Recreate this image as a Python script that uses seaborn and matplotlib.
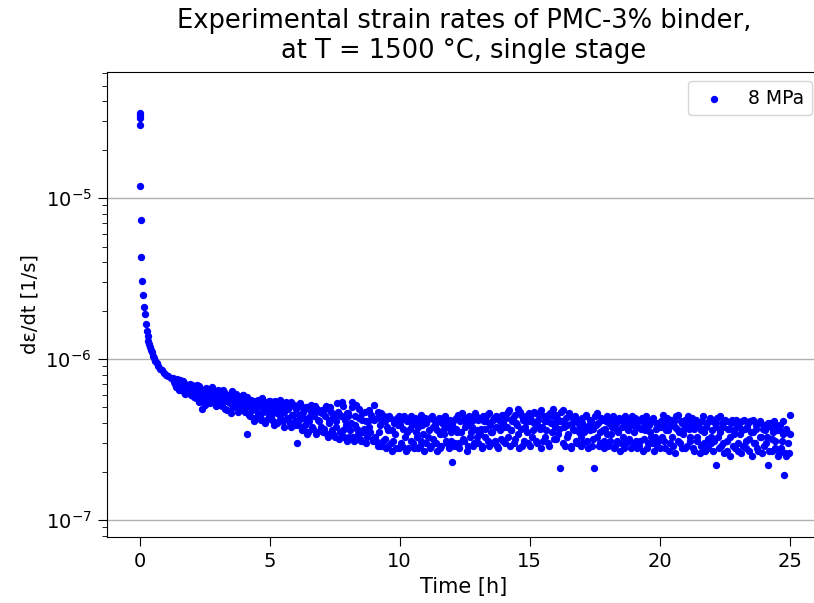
import pandas as pd
import matplotlib.pyplot as plt
import seaborn as sns

# early transient (first ~1.3 h)
hours_start = [0.0, 0.0, 0.0, 0.0, 0.03, 0.05, 0.07, 0.10, 0.13, 0.17, 0.20, 0.24, 0.27, 0.31, 0.34,
               0.37, 0.42, 0.45, 0.48, 0.52, 0.56, 0.61, 0.67, 0.72, 0.78, 0.86, 0.93, 1.00, 1.10, 1.20]
rate_start_e7 = [339, 328, 313, 285, 118, 72.7, 43, 30.5, 25, 21, 19, 16.5, 15, 13.9, 13.0,
                 12.4, 11.8, 11.3, 11.0, 10.5, 10.1, 9.7, 9.4, 9.0, 8.7, 8.5, 8.2, 8.0, 7.9, 7.6]

# steady part, strain rate in 1e-8 1/s (first pass of readings)
hours_a = [
    1.30, 1.36, 1.42, 1.48, 1.54, 1.60, 1.66, 1.72, 1.78, 1.84, 1.90, 1.96,
    2.00, 2.06, 2.12, 2.18, 2.24, 2.30, 2.36, 2.42, 2.48, 2.54, 2.60, 2.66, 2.72, 2.78, 2.84, 2.90, 2.96,
    3.00, 3.06, 3.12, 3.18, 3.24, 3.30, 3.36, 3.42, 3.48, 3.54, 3.60, 3.66, 3.72, 3.78, 3.84, 3.90, 3.96,
    4.00, 4.06, 4.12, 4.18, 4.24, 4.30, 4.36, 4.42, 4.48, 4.54, 4.60, 4.66, 4.72, 4.78, 4.84, 4.90, 4.96,
    5.00, 5.06, 5.12, 5.18, 5.24, 5.30, 5.36, 5.42, 5.48, 5.54, 5.60, 5.66, 5.72, 5.78, 5.84, 5.90, 5.96,
    6.00, 6.06, 6.12, 6.18, 6.24, 6.30, 6.36, 6.42, 6.48, 6.54, 6.60, 6.66, 6.72, 6.78, 6.84, 6.90, 6.96,
    7.00, 7.06, 7.12, 7.18, 7.24, 7.30, 7.36, 7.42, 7.48, 7.54, 7.60, 7.66, 7.72, 7.78, 7.84, 7.90, 7.96,
    8.00, 8.06, 8.12, 8.18, 8.24, 8.30, 8.36, 8.42, 8.48, 8.54, 8.60, 8.66, 8.72, 8.78, 8.84, 8.90, 8.96,
    9.00, 9.06, 9.12, 9.18, 9.24, 9.30, 9.36, 9.42, 9.48, 9.54, 9.60, 9.66, 9.72, 9.78, 9.84, 9.90, 9.96,
    10.00, 10.06, 10.12, 10.18, 10.24, 10.30, 10.36, 10.42, 10.48, 10.54, 10.60, 10.66, 10.72, 10.78, 10.84, 10.90, 10.96,
    11.00, 11.06, 11.12, 11.18, 11.24, 11.30, 11.36, 11.42, 11.48, 11.54, 11.60, 11.66, 11.72, 11.78, 11.84, 11.90, 11.96,
    12.00, 12.06, 12.12, 12.18, 12.24, 12.30, 12.36, 12.42, 12.48, 12.54, 12.60, 12.66, 12.72, 12.78, 12.84, 12.90, 12.96,
    13.00, 13.06, 13.12, 13.18, 13.24, 13.30, 13.36, 13.42, 13.48, 13.54, 13.60, 13.66, 13.72, 13.78, 13.84, 13.90, 13.96,
    14.00, 14.06, 14.12, 14.18, 14.24, 14.30, 14.36, 14.42, 14.48, 14.54, 14.60, 14.66, 14.72, 14.78, 14.84, 14.90, 14.96,
    15.00, 15.06, 15.12, 15.18, 15.24, 15.30, 15.36, 15.42, 15.48, 15.54, 15.60, 15.66, 15.72, 15.78, 15.84, 15.90, 15.96,
    16.00, 16.06, 16.12, 16.18, 16.24, 16.30, 16.36, 16.42, 16.48, 16.54, 16.60, 16.66, 16.72, 16.78, 16.84, 16.90, 16.96,
    17.00, 17.06, 17.12, 17.18, 17.24, 17.30, 17.36, 17.42, 17.48, 17.54, 17.60, 17.66, 17.72, 17.78, 17.84, 17.90, 17.96,
    18.00, 18.06, 18.12, 18.18, 18.24, 18.30, 18.36, 18.42, 18.48, 18.54, 18.60, 18.66, 18.72, 18.78, 18.84, 18.90, 18.96,
    19.00, 19.06, 19.12, 19.18, 19.24, 19.30, 19.36, 19.42, 19.48, 19.54, 19.60, 19.66, 19.72, 19.78, 19.84, 19.90, 19.96,
    20.00, 20.06, 20.12, 20.18, 20.24, 20.30, 20.36, 20.42, 20.48, 20.54, 20.60, 20.66, 20.72, 20.78, 20.84, 20.90, 20.96,
    21.00, 21.06, 21.12, 21.18, 21.24, 21.30, 21.36, 21.42, 21.48, 21.54, 21.60, 21.66, 21.72, 21.78, 21.84, 21.90, 21.96,
    22.00, 22.06, 22.12, 22.18, 22.24, 22.30, 22.36, 22.42, 22.48, 22.54, 22.60, 22.66, 22.72, 22.78, 22.84, 22.90, 22.96,
    23.00, 23.06, 23.12, 23.18, 23.24, 23.30, 23.36, 23.42, 23.48, 23.54, 23.60, 23.66, 23.72, 23.78, 23.84, 23.90, 23.96,
    24.00, 24.06, 24.12, 24.18, 24.24, 24.30, 24.36, 24.42, 24.48, 24.54, 24.60, 24.66, 24.72, 24.78, 24.84, 24.90, 24.96, 25.00,
]
rate_a_e8 = [
    76, 70, 73, 66, 74, 68, 63, 71, 65, 69, 62, 67,
    69, 60, 66, 57, 63, 68, 55, 49, 61, 65, 56, 62, 53, 67, 58, 63, 54,
    64, 55, 60, 51, 62, 57, 48, 59, 53, 63, 50, 56, 61, 47, 58, 52, 60,
    57, 47, 34, 53, 44, 56, 49, 41, 54, 46, 51, 42, 57, 48, 40, 53, 45,
    55, 44, 50, 39, 53, 46, 41, 56, 48, 38, 52, 43, 49, 40, 54, 45, 39,
    51, 30, 42, 53, 36, 47, 39, 50, 35, 44, 52, 37, 46, 34, 49, 41, 36,
    48, 35, 44, 51, 33, 40, 47, 34, 43, 38, 53, 32, 45, 54, 36, 42, 31,
    46, 33, 40, 54, 31, 44, 37, 49, 32, 42, 35, 47, 30, 41, 38, 45, 31,
    52, 33, 43, 29, 39, 46, 31, 41, 28, 36, 44, 30, 27, 40, 34, 43, 28,
    41, 30, 37, 44, 27, 35, 42, 31, 39, 28, 43, 33, 38, 29, 45, 34, 40,
    30, 42, 36, 28, 44, 32, 39, 27, 41, 34, 29, 43, 37, 31, 40, 28, 35,
    23, 41, 30, 37, 45, 28, 35, 42, 31, 39, 27, 44, 33, 38, 29, 46, 36,
    30, 43, 37, 28, 41, 33, 45, 29, 39, 35, 42, 31, 44, 28, 38, 32, 40,
    45, 30, 38, 47, 29, 36, 43, 32, 40, 49, 28, 37, 44, 31, 41, 35, 46,
    29, 42, 36, 47, 31, 39, 45, 28, 38, 44, 33, 41, 30, 46, 35, 49, 40,
    32, 43, 37, 21, 41, 48, 29, 39, 34, 44, 28, 37, 42, 31, 40, 35, 29,
    43, 30, 38, 45, 28, 36, 41, 32, 21, 39, 46, 29, 35, 42, 31, 37, 44,
    29, 40, 34, 43, 28, 37, 31, 42, 27, 38, 33, 44, 30, 36, 41, 28, 39,
    35, 43, 28, 38, 31, 41, 27, 36, 44, 30, 39, 33, 42, 27, 37, 29, 40,
    28, 38, 45, 31, 36, 42, 27, 39, 33, 41, 26, 37, 45, 30, 40, 34, 28,
    42, 29, 37, 33, 43, 27, 39, 31, 40, 26, 36, 44, 30, 38, 28, 41, 33,
    36, 27, 40, 22, 33, 44, 29, 38, 26, 41, 31, 37, 25, 42, 34, 28, 39,
    30, 40, 26, 36, 42, 28, 38, 32, 41, 25, 35, 30, 39, 27, 41, 33, 37,
    29, 38, 33, 22, 40, 27, 35, 31, 39, 25, 36, 28, 34, 19, 25, 35, 26, 45,
]

# second pass of readings, in between the first ones
hours_b = [
    1.33, 1.39, 1.45, 1.51, 1.57, 1.63, 1.69, 1.75, 1.81, 1.87, 1.93, 1.99,
    2.03, 2.09, 2.15, 2.21, 2.27, 2.33, 2.39, 2.45, 2.51, 2.57, 2.63, 2.69, 2.75, 2.81, 2.87, 2.93, 2.99,
    3.03, 3.09, 3.15, 3.21, 3.27, 3.33, 3.39, 3.45, 3.51, 3.57, 3.63, 3.69, 3.75, 3.81, 3.87, 3.93, 3.99,
    4.03, 4.09, 4.15, 4.21, 4.27, 4.33, 4.39, 4.45, 4.51, 4.57, 4.63, 4.69, 4.75, 4.81, 4.87, 4.93, 4.99,
    5.03, 5.09, 5.15, 5.21, 5.27, 5.33, 5.39, 5.45, 5.51, 5.57, 5.63, 5.69, 5.75, 5.81, 5.87, 5.93, 5.99,
    6.03, 6.09, 6.15, 6.21, 6.27, 6.33, 6.39, 6.45, 6.51, 6.57, 6.63, 6.69, 6.75, 6.81, 6.87, 6.93, 6.99,
    7.03, 7.09, 7.15, 7.21, 7.27, 7.33, 7.39, 7.45, 7.51, 7.57, 7.63, 7.69, 7.75, 7.81, 7.87, 7.93, 7.99,
    8.03, 8.09, 8.15, 8.21, 8.27, 8.33, 8.39, 8.45, 8.51, 8.57, 8.63, 8.69, 8.75, 8.81, 8.87, 8.93, 8.99,
    9.03, 9.09, 9.15, 9.21, 9.27, 9.33, 9.39, 9.45, 9.51, 9.57, 9.63, 9.69, 9.75, 9.81, 9.87, 9.93, 9.99,
    10.03, 10.09, 10.15, 10.21, 10.27, 10.33, 10.39, 10.45, 10.51, 10.57, 10.63, 10.69, 10.75, 10.81, 10.87, 10.93, 10.99,
    11.03, 11.09, 11.15, 11.21, 11.27, 11.33, 11.39, 11.45, 11.51, 11.57, 11.63, 11.69, 11.75, 11.81, 11.87, 11.93, 11.99,
    12.03, 12.09, 12.15, 12.21, 12.27, 12.33, 12.39, 12.45, 12.51, 12.57, 12.63, 12.69, 12.75, 12.81, 12.87, 12.93, 12.99,
    13.03, 13.09, 13.15, 13.21, 13.27, 13.33, 13.39, 13.45, 13.51, 13.57, 13.63, 13.69, 13.75, 13.81, 13.87, 13.93, 13.99,
    14.03, 14.09, 14.15, 14.21, 14.27, 14.33, 14.39, 14.45, 14.51, 14.57, 14.63, 14.69, 14.75, 14.81, 14.87, 14.93, 14.99,
    15.03, 15.09, 15.15, 15.21, 15.27, 15.33, 15.39, 15.45, 15.51, 15.57, 15.63, 15.69, 15.75, 15.81, 15.87, 15.93, 15.99,
    16.03, 16.09, 16.15, 16.21, 16.27, 16.33, 16.39, 16.45, 16.51, 16.57, 16.63, 16.69, 16.75, 16.81, 16.87, 16.93, 16.99,
    17.03, 17.09, 17.15, 17.21, 17.27, 17.33, 17.39, 17.45, 17.51, 17.57, 17.63, 17.69, 17.75, 17.81, 17.87, 17.93, 17.99,
    18.03, 18.09, 18.15, 18.21, 18.27, 18.33, 18.39, 18.45, 18.51, 18.57, 18.63, 18.69, 18.75, 18.81, 18.87, 18.93, 18.99,
    19.03, 19.09, 19.15, 19.21, 19.27, 19.33, 19.39, 19.45, 19.51, 19.57, 19.63, 19.69, 19.75, 19.81, 19.87, 19.93, 19.99,
    20.03, 20.09, 20.15, 20.21, 20.27, 20.33, 20.39, 20.45, 20.51, 20.57, 20.63, 20.69, 20.75, 20.81, 20.87, 20.93, 20.99,
    21.03, 21.09, 21.15, 21.21, 21.27, 21.33, 21.39, 21.45, 21.51, 21.57, 21.63, 21.69, 21.75, 21.81, 21.87, 21.93, 21.99,
    22.03, 22.09, 22.15, 22.21, 22.27, 22.33, 22.39, 22.45, 22.51, 22.57, 22.63, 22.69, 22.75, 22.81, 22.87, 22.93, 22.99,
    23.03, 23.09, 23.15, 23.21, 23.27, 23.33, 23.39, 23.45, 23.51, 23.57, 23.63, 23.69, 23.75, 23.81, 23.87, 23.93, 23.99,
    24.03, 24.09, 24.15, 24.21, 24.27, 24.33, 24.39, 24.45, 24.51, 24.57, 24.63, 24.69, 24.75, 24.81, 24.87, 24.93, 24.99,
]
rate_b_e8 = [
    72, 67, 75, 64, 70, 66, 73, 61, 68, 64, 70, 60,
    66, 58, 63, 69, 54, 61, 64, 57, 52, 66, 59, 62, 55, 64, 60, 51, 57,
    61, 52, 58, 64, 49, 55, 60, 54, 46, 62, 57, 51, 59, 53, 49, 56, 60,
    55, 50, 58, 45, 52, 48, 55, 43, 50, 56, 44, 52, 47, 54, 42, 49, 55,
    52, 42, 47, 55, 40, 50, 44, 53, 41, 47, 54, 43, 50, 38, 45, 52, 41,
    49, 39, 45, 51, 37, 43, 50, 34, 41, 48, 38, 44, 51, 35, 42, 47, 38,
    46, 37, 49, 34, 42, 50, 36, 45, 33, 41, 47, 35, 44, 51, 33, 39, 46,
    44, 36, 50, 33, 39, 52, 34, 43, 31, 46, 37, 41, 33, 48, 35, 43, 32,
    42, 31, 47, 35, 29, 41, 44, 32, 38, 29, 43, 36, 31, 42, 28, 39, 44,
    39, 29, 43, 33, 41, 28, 37, 44, 30, 40, 35, 28, 42, 31, 39, 27, 43,
    40, 33, 43, 29, 38, 42, 30, 36, 43, 28, 40, 34, 44, 30, 38, 42, 31,
    39, 29, 43, 35, 30, 41, 46, 32, 38, 43, 29, 40, 35, 42, 30, 44, 33,
    42, 34, 29, 44, 37, 41, 31, 46, 35, 30, 43, 38, 29, 42, 36, 45, 31,
    38, 43, 33, 48, 36, 41, 30, 45, 39, 34, 47, 29, 42, 38, 44, 30, 41,
    44, 33, 40, 46, 30, 42, 37, 48, 31, 41, 36, 45, 29, 40, 44, 32, 38,
    45, 34, 41, 47, 30, 38, 43, 33, 46, 29, 40, 36, 44, 30, 42, 38, 33,
    40, 35, 44, 31, 39, 42, 29, 37, 44, 33, 40, 30, 43, 36, 28, 41, 34,
    42, 31, 38, 44, 29, 40, 35, 43, 30, 41, 28, 38, 42, 32, 39, 44, 30,
    40, 31, 42, 29, 37, 43, 32, 39, 28, 41, 35, 30, 43, 33, 40, 31, 38,
    41, 33, 39, 28, 43, 36, 30, 42, 29, 38, 44, 31, 35, 41, 28, 37, 42,
    38, 44, 31, 40, 28, 37, 42, 33, 38, 29, 41, 35, 27, 40, 32, 43, 30,
    41, 31, 38, 43, 28, 35, 40, 30, 42, 27, 37, 33, 40, 29, 36, 42, 27,
    38, 34, 41, 29, 37, 31, 40, 27, 35, 42, 30, 37, 28, 40, 33, 26, 39,
    36, 30, 40, 27, 38, 32, 41, 28, 36, 26, 39, 31, 41, 26, 37, 30, 34,
]

df = pd.DataFrame({
    "Time [h]": hours_start + hours_a + hours_b,
    "rate": ([v * 1e-7 for v in rate_start_e7] + [v * 1e-8 for v in rate_a_e8]
             + [v * 1e-8 for v in rate_b_e8]),
})

fig = plt.figure(figsize=(8.14, 6.03), dpi=100)
ax = fig.add_axes([107 / 814, 66 / 603, 714 / 814, 465 / 603])
sns.scatterplot(data=df, x="Time [h]", y="rate", color="blue", s=28,
                linewidth=0, label="8 MPa", ax=ax)
ax.set_yscale("log")
ax.set_ylim(7.84e-8, 6.07e-5)
ax.set_xlim(-1.25, 26.2)
ax.set_xticks([0, 5, 10, 15, 20, 25])
ax.grid(axis="y", which="major", color="#b0b0b0", linewidth=1)
ax.set_axisbelow(True)
ax.tick_params(axis="both", which="major", labelsize=14, length=6.5, pad=4.5)
ax.tick_params(axis="y", which="minor", length=3.5)
ax.set_xlabel("Time [h]", fontsize=15)
ax.set_ylabel("dε/dt [1/s]", fontsize=14)
ax.set_title("Experimental strain rates of PMC-3% binder,\nat T = 1500 °C, single stage",
             fontsize=18.5, pad=10)
ax.legend(loc="upper right", fontsize=13.5)
fig.savefig("out.png", dpi=100)
